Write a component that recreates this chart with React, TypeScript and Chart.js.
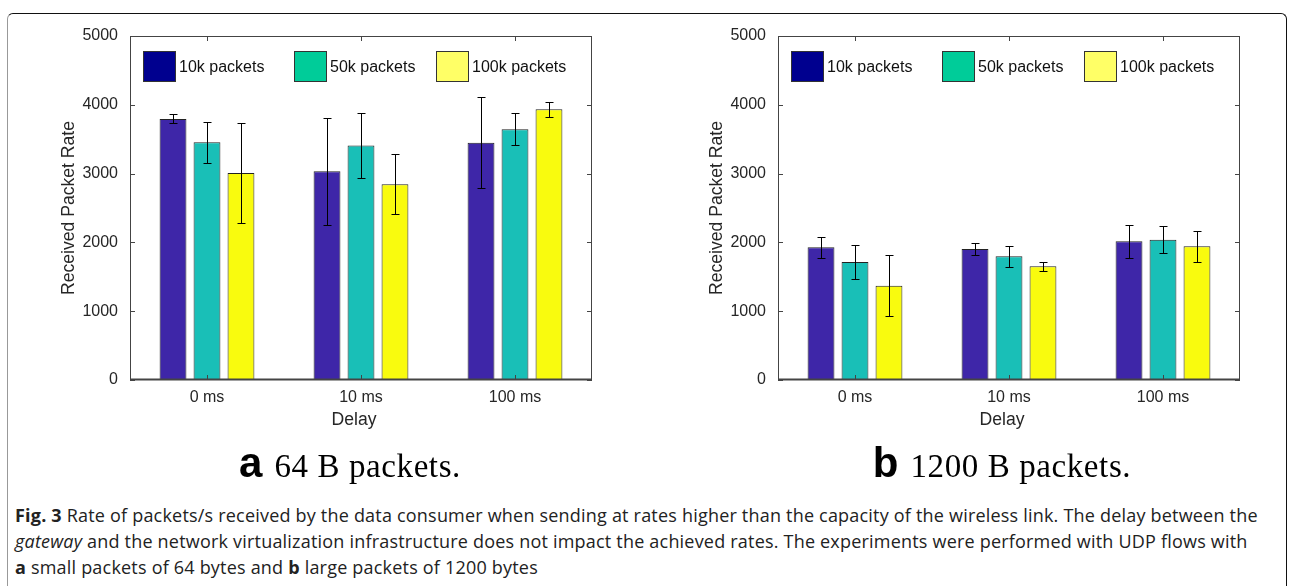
import React, { useEffect, useRef } from "react";
import { Chart, registerables } from "chart.js";

Chart.register(...registerables);

const categories = ["0 ms", "10 ms", "100 ms"];
const seriesLabels = ["10k packets", "50k packets", "100k packets"];
const yTicks = [0, 1000, 2000, 3000, 4000, 5000];

// (a) 64 B packets
const small10k = [3795, 3035, 3450];
const small50k = [3455, 3410, 3645];
const small100k = [3010, 2845, 3935];
const small10kErr = [65, 780, 665];
const small50kErr = [300, 470, 235];
const small100kErr = [730, 435, 110];

// (b) 1200 B packets
const large10k = [1929, 1904, 2015];
const large50k = [1715, 1797, 2040];
const large100k = [1371, 1652, 1943];
const large10kErr = [150, 85, 240];
const large50kErr = [245, 155, 195];
const large100kErr = [448, 65, 228];

const barColors = ["#3e26a8", "#19bfb7", "#f9fb0e"];
const legendColors = ["#00008f", "#00cc99", "#ffff66"];

const FONT = "'Liberation Sans', Arial, sans-serif";
const TEXT = "#262626";

const panelPlugin = {
  id: "panelDecor",
  afterDatasetsDraw(chart: any) {
    const { ctx, scales } = chart;
    const ys = scales.y;
    const errs: number[][] = chart.options.plugins.panelDecor.errors;
    ctx.save();
    ctx.strokeStyle = "#000";
    ctx.lineWidth = 1;
    chart.data.datasets.forEach((ds: any, di: number) => {
      const meta = chart.getDatasetMeta(di);
      meta.data.forEach((bar: any, i: number) => {
        const v = ds.data[i];
        const e = errs[di][i];
        const x = Math.round(bar.x) + 0.5;
        const yt = Math.round(ys.getPixelForValue(v + e)) + 0.5;
        const yb = Math.round(ys.getPixelForValue(v - e)) + 0.5;
        ctx.beginPath();
        ctx.moveTo(x, yt);
        ctx.lineTo(x, yb);
        ctx.moveTo(x - 4, yt);
        ctx.lineTo(x + 4, yt);
        ctx.moveTo(x - 4, yb);
        ctx.lineTo(x + 4, yb);
        ctx.stroke();
      });
    });
    ctx.restore();
  },
  afterDraw(chart: any) {
    const { ctx, chartArea, scales } = chart;
    const { left, right, top, bottom } = chartArea;
    const xs = scales.x;
    const ys = scales.y;
    ctx.save();
    // frame
    ctx.strokeStyle = "#444";
    ctx.lineWidth = 1;
    ctx.strokeRect(left + 0.5, top + 0.5, right - left - 1, bottom - top - 1);
    ctx.lineWidth = 2;
    ctx.beginPath();
    ctx.moveTo(left, bottom - 0.5);
    ctx.lineTo(right, bottom - 0.5);
    ctx.stroke();
    ctx.lineWidth = 1;
    // ticks inward
    ctx.beginPath();
    yTicks.forEach((t) => {
      const y = Math.round(ys.getPixelForValue(t)) + 0.5;
      ctx.moveTo(left, y);
      ctx.lineTo(left + 5, y);
      ctx.moveTo(right, y);
      ctx.lineTo(right - 5, y);
    });
    categories.forEach((_c, i) => {
      const x = Math.round(xs.getPixelForValue(i)) + 0.5;
      ctx.moveTo(x, bottom);
      ctx.lineTo(x, bottom - 5);
      ctx.moveTo(x, top);
      ctx.lineTo(x, top + 5);
    });
    ctx.stroke();

    // legend inside the axes
    const offs = [13, 164, 306];
    ctx.font = `16px ${FONT}`;
    ctx.textBaseline = "middle";
    ctx.textAlign = "left";
    chart.data.datasets.forEach((ds: any, di: number) => {
      const x0 = left + offs[di];
      const y0 = top + 15;
      ctx.fillStyle = legendColors[di];
      ctx.fillRect(x0, y0, 33, 31);
      ctx.strokeStyle = "#333";
      ctx.strokeRect(x0 + 0.5, y0 + 0.5, 32, 30);
      ctx.fillStyle = "#111";
      ctx.fillText(ds.label, x0 + 36, y0 + 17);
    });

    // axis titles
    ctx.fillStyle = TEXT;
    ctx.font = `17.6px ${FONT}`;
    ctx.textAlign = "center";
    ctx.textBaseline = "middle";
    ctx.fillText("Delay", (left + right) / 2 - 7, bottom + 40);
    ctx.translate(left - 61, (top + bottom) / 2);
    ctx.rotate(-Math.PI / 2);
    ctx.fillText("Received Packet Rate", 0, 0);
    ctx.restore();
  },
};

function Panel(props: { left: number; series: number[][]; errors: number[][] }) {
  const ref = useRef<HTMLCanvasElement | null>(null);
  useEffect(() => {
    if (!ref.current) return;
    const chart = new Chart(ref.current, {
      type: "bar",
      data: {
        labels: categories,
        datasets: props.series.map((d, i) => ({
          label: seriesLabels[i],
          data: d,
          backgroundColor: barColors[i],
          borderColor: "#222",
          borderWidth: 1,
          borderSkipped: "bottom",
          categoryPercentage: 0.662,
          barPercentage: 0.79,
        })),
      },
      options: {
        animation: false,
        responsive: false,
        maintainAspectRatio: false,
        layout: { padding: { top: 36, right: 48, left: 0, bottom: 0 } },
        plugins: {
          legend: { display: false },
          tooltip: { enabled: false },
          panelDecor: { errors: props.errors },
        } as any,
        scales: {
          x: {
            type: "category",
            offset: true,
            grid: { display: false, drawTicks: false },
            border: { display: false },
            ticks: { color: TEXT, font: { family: FONT, size: 16 }, padding: 8, maxRotation: 0 },
            afterFit: (s: any) => {
              s.height = 60;
            },
          },
          y: {
            min: 0,
            max: 5000,
            grid: { display: false, drawTicks: false },
            border: { display: false },
            ticks: {
              stepSize: 1000,
              color: TEXT,
              font: { family: FONT, size: 16 },
              padding: 12,
              callback: (v: any) => String(v),
            },
            afterFit: (s: any) => {
              s.width = 130;
            },
          },
        },
      },
      plugins: [panelPlugin],
    });
    return () => chart.destroy();
  }, []);
  return (
    <canvas
      ref={ref}
      width={640}
      height={440}
      style={{ position: "absolute", left: props.left, top: 0, width: 640, height: 440 }}
    />
  );
}

const subLetter: React.CSSProperties = { fontFamily: FONT, fontWeight: "bold", fontSize: 42 };
const subText: React.CSSProperties = {
  fontFamily: "'Liberation Serif', serif",
  fontSize: 33,
  letterSpacing: 0.6,
  marginLeft: 12,
};

export default function App() {
  return (
    <div style={{ position: "absolute", left: 0, top: 0, width: 1290, height: 586, overflow: "hidden", background: "#fff" }}>
      <div
        style={{
          position: "absolute",
          left: 7,
          top: 13,
          width: 1278,
          height: 620,
          borderTop: "1px solid #111",
          borderLeft: "1px solid #999",
          borderRight: "1px solid #111",
          borderTopLeftRadius: 6,
          borderTopRightRadius: 6,
        }}
      />
      <Panel left={0} series={[small10k, small50k, small100k]} errors={[small10kErr, small50kErr, small100kErr]} />
      <Panel left={648} series={[large10k, large50k, large100k]} errors={[large10kErr, large50kErr, large100kErr]} />
      <div style={{ position: "absolute", left: 150, width: 400, top: 438, textAlign: "center", whiteSpace: "nowrap", lineHeight: "50px" }}>
        <span style={subLetter}>a</span>
        <span style={subText}>64 B packets.</span>
      </div>
      <div style={{ position: "absolute", left: 802, width: 400, top: 438, textAlign: "center", whiteSpace: "nowrap", lineHeight: "50px" }}>
        <span style={subLetter}>b</span>
        <span style={subText}>1200 B packets.</span>
      </div>
      <div
        style={{
          position: "absolute",
          left: 15,
          top: 502,
          width: 1270,
          fontFamily: "'Open Sans', sans-serif",
          fontSize: 18,
          lineHeight: "26px",
          letterSpacing: 0.2,
          color: "#222",
          whiteSpace: "nowrap",
        }}
      >
        <div>
          <b>Fig. 3</b> Rate of packets/s received by the data consumer when sending at rates higher than the capacity of the wireless link. The delay between the
        </div>
        <div>
          <i>gateway</i> and the network virtualization infrastructure does not impact the achieved rates. The experiments were performed with UDP flows with
        </div>
        <div>
          <b>a</b> small packets of 64 bytes and <b>b</b> large packets of 1200 bytes
        </div>
      </div>
    </div>
  );
}
